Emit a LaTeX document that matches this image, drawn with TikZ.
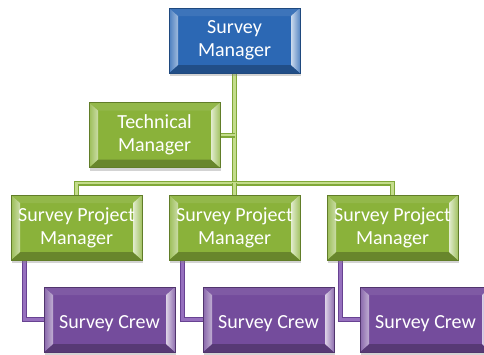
\documentclass[tikz,border=0pt]{standalone}
\usepackage{fontspec}
\setmainfont{Carlito}
\usetikzlibrary{calc,shadows,backgrounds}
\definecolor{cblue}{RGB}{44,104,180}
\definecolor{cgreen}{RGB}{138,178,58}
\definecolor{cpurple}{RGB}{116,76,156}
\definecolor{lgreenO}{RGB}{128,168,56}
\definecolor{lgreenI}{RGB}{196,220,140}
\definecolor{lpurpO}{RGB}{104,66,146}
\definecolor{lpurpI}{RGB}{150,112,190}
\newcommand\bevfacets[1]{%
  \coordinate (@sw) at (path picture bounding box.south west);
  \coordinate (@ne) at (path picture bounding box.north east);
  \coordinate (@nw) at (@sw |- @ne);
  \coordinate (@se) at (@ne |- @sw);
  \fill[#1!75!black] (@sw) -- (@se) -- ($(@se)+(-9pt,8pt)$) -- ($(@sw)+(9pt,8pt)$) -- cycle;
  \fill[#1!92!white] (@nw) -- (@ne) -- ($(@ne)+(-9pt,-8pt)$) -- ($(@nw)+(9pt,-8pt)$) -- cycle;
  \fill[left color=#1!85!white, right color=#1!45!white] (@sw) -- (@nw) -- ($(@nw)+(9pt,-8pt)$) -- ($(@sw)+(9pt,8pt)$) -- cycle;
  \fill[left color=#1!25!white, right color=#1!80!white] (@se) -- (@ne) -- ($(@ne)+(-9pt,-8pt)$) -- ($(@se)+(-9pt,8pt)$) -- cycle;
}
\tikzset{
  bev/.style={minimum width=131pt, minimum height=65pt, inner sep=0pt,
    fill=#1, draw=#1!70!black, line width=0.6pt, text=white, align=center,
    font=\fontsize{20}{23}\selectfont,
    execute at begin node={\rule{0pt}{21pt}},
    drop shadow={opacity=0.35, shadow xshift=1pt, shadow yshift=-3pt},
    path picture={\bevfacets{#1}}},
  gline/.style={draw=lgreenO, double=lgreenI, line width=1.1pt, double distance=2.8pt},
  pline/.style={draw=lpurpO, double=lpurpI, line width=1.1pt, double distance=2.8pt},
}
\begin{document}
\begin{tikzpicture}[x=1pt,y=-1pt]
\useasboundingbox (0,0) rectangle (484,354);
\coordinate (busy) at (0,183);
\node[bev=cblue] (sm) at (234.5,40.5) {Survey\\Manager};
\node[bev=cgreen] (tm) at (154.5,135) {Technical\\Manager};
\node[bev=cgreen] (spm1) at (76.5,227.5) {Survey Project\\Manager};
\node[bev=cgreen] (spm2) at (234.5,227.5) {Survey Project\\Manager};
\node[bev=cgreen] (spm3) at (392.5,227.5) {Survey Project\\Manager};
\node[bev=cpurple] (sc1) at (109.5,319.5) {Survey Crew};
\node[bev=cpurple] (sc2) at (268.5,319.5) {Survey Crew};
\node[bev=cpurple] (sc3) at (425.5,319.5) {Survey Crew};
\begin{pgfonlayer}{background}
\draw[gline] (sm.south) -- (sm.south |- busy);
\draw[gline] (tm.east) -- (tm.east -| sm.south);
\draw[gline] (spm1.north) |- (spm3.north |- busy) -- (spm3.north);
\draw[gline] (spm2.north) -- (spm2.north |- busy);
\draw[pline] ([xshift=14pt]spm1.south west) |- (sc1.west);
\draw[pline] ([xshift=14pt]spm2.south west) |- (sc2.west);
\draw[pline] ([xshift=14pt]spm3.south west) |- (sc3.west);
\end{pgfonlayer}
\end{tikzpicture}
\end{document}
